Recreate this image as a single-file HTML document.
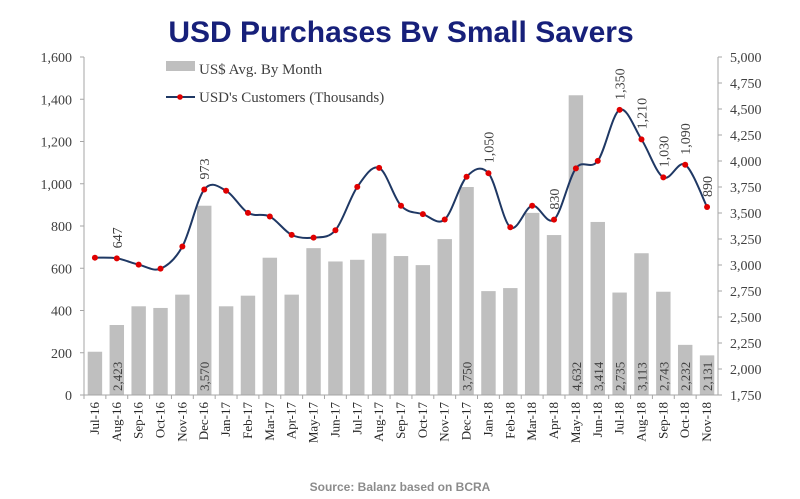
<!DOCTYPE html>
<html><head><meta charset="utf-8"><style>
body{margin:0;background:#fff;}
svg{display:block;font-family:"Liberation Serif",serif;}
</style></head><body>
<svg id="chart" width="800" height="499">
<text x="401" y="42" text-anchor="middle" font-family="Liberation Sans, sans-serif" font-weight="bold" font-size="30" fill="#17207a">USD Purchases Bv Small Savers</text>
<g>
<rect x="166" y="61" width="29" height="10" fill="#bfbfbf"/>
<text x="199" y="74" font-size="15" fill="#404040">US$ Avg. By Month</text>
<line x1="166" y1="97" x2="195" y2="97" stroke="#1f3864" stroke-width="2"/>
<circle cx="180" cy="97" r="2.8" fill="#e00000"/>
<text x="199" y="102" font-size="15" fill="#404040">USD's Customers (Thousands)</text>
</g>
<g id="plot"></g>
<text x="400" y="491" text-anchor="middle" font-family="Liberation Sans, sans-serif" font-weight="bold" font-size="12" fill="#8c8c8c">Source: Balanz based on BCRA</text>
</svg>
<script>
const categories=["Jul-16","Aug-16","Sep-16","Oct-16","Nov-16","Dec-16","Jan-17","Feb-17","Mar-17","Apr-17","May-17","Jun-17","Jul-17","Aug-17","Sep-17","Oct-17","Nov-17","Dec-17","Jan-18","Feb-18","Mar-18","Apr-18","May-18","Jun-18","Jul-18","Aug-18","Sep-18","Oct-18","Nov-18"];
const barValues=[2166,2423,2603,2587,2715,3570,2603,2705,3070,2715,3162,3034,3050,3304,3086,2999,3249,3750,2749,2778,3501,3288,4632,3414,2735,3113,2743,2232,2131];
const barLabels=["","2,423","","","","3,570","","","","","","","","","","","","3,750","","","","","4,632","3,414","2,735","3,113","2,743","2,232","2,131"];
const lineValues=[650,647,617,598,703,973,967,862,845,758,745,780,985,1075,896,856,831,1033,1050,794,896,830,1073,1108,1350,1210,1030,1090,890];
const lineLabels=["","647","","","","973","","","","","","","","","","","","","1,050","","","830","","","1,350","1,210","1,030","1,090","890"];
const leftTicks=[0,200,400,600,800,1000,1200,1400,1600];
const leftTickLabels=["0","200","400","600","800","1,000","1,200","1,400","1,600"];
const rightTicks=[1750,2000,2250,2500,2750,3000,3250,3500,3750,4000,4250,4500,4750,5000];
const rightTickLabels=["1,750","2,000","2,250","2,500","2,750","3,000","3,250","3,500","3,750","4,000","4,250","4,500","4,750","5,000"];

const X0=84,X1=718,Y0=395,Y1=57;
const NS="http://www.w3.org/2000/svg";
const g=document.getElementById('plot');
const step=(X1-X0)/categories.length;
function xc(i){return X0+step*(i+0.5);}
function yL(v){return Y0-(v-0)/(1600-0)*(Y0-Y1);}
function yR(v){return Y0-(v-1750)/(5000-1750)*(Y0-Y1);}
function mk(tag,attrs){const e=document.createElementNS(NS,tag);for(const k in attrs)e.setAttribute(k,attrs[k]);g.appendChild(e);return e;}

barValues.forEach((v,i)=>{
  const w=step*0.66;const y=yR(v);
  const r=mk('rect',{x:xc(i)-w/2,y:y,width:w,height:Y0-y,fill:'#bfbfbf'});
  
  
  if(barLabels[i]){
    const t=mk('text',{transform:`translate(${xc(i)+5},${Y0-4}) rotate(-90)`,'font-size':13,fill:'#404040'});
    t.textContent=barLabels[i];
    
    
  }
});
let a=mk('line',{x1:X0,y1:Y1,x2:X0,y2:Y0,stroke:'#a6a6a6'});


a=mk('line',{x1:X1,y1:Y1,x2:X1,y2:Y0,stroke:'#a6a6a6'});


a=mk('line',{x1:X0,y1:Y0,x2:X1,y2:Y0,stroke:'#a6a6a6'});


leftTicks.forEach((v,i)=>{
  mk('line',{x1:X0-4,y1:yL(v),x2:X0,y2:yL(v),stroke:'#a6a6a6'});
  const t=mk('text',{x:X0-12,y:yL(v)+5,'text-anchor':'end','font-size':14,fill:'#404040'});
  t.textContent=leftTickLabels[i];
  
  
});
rightTicks.forEach((v,i)=>{
  mk('line',{x1:X1,y1:yR(v),x2:X1+4,y2:yR(v),stroke:'#a6a6a6'});
  const t=mk('text',{x:X1+12,y:yR(v)+5,'font-size':14,fill:'#404040'});
  t.textContent=rightTickLabels[i];
  
  
});
categories.forEach((c,i)=>{
  mk('line',{x1:X0+step*i,y1:Y0,x2:X0+step*i,y2:Y0+4,stroke:'#a6a6a6'});
  const t=mk('text',{transform:`translate(${xc(i)+4},${Y0+7}) rotate(-90)`,'text-anchor':'end','font-size':13,fill:'#262626'});
  t.textContent=c;
  
  
});
const pts=lineValues.map((v,i)=>[xc(i),yL(v)]);
let d=`M${pts[0][0]},${pts[0][1]}`;
for(let i=0;i<pts.length-1;i++){
  const p0=pts[Math.max(0,i-1)],p1=pts[i],p2=pts[i+1],p3=pts[Math.min(pts.length-1,i+2)];
  const c1=[p1[0]+(p2[0]-p0[0])/6,p1[1]+(p2[1]-p0[1])/6];
  const c2=[p2[0]-(p3[0]-p1[0])/6,p2[1]-(p3[1]-p1[1])/6];
  d+=` C${c1[0]},${c1[1]} ${c2[0]},${c2[1]} ${p2[0]},${p2[1]}`;
}
const path=mk('path',{d:d,fill:'none',stroke:'#1f3864','stroke-width':2});


pts.forEach((p,i)=>{
  const c=mk('circle',{cx:p[0],cy:p[1],r:3,fill:'#e00000'});
  
  
  if(lineLabels[i]){
    const t=mk('text',{transform:`translate(${p[0]+5},${p[1]-10}) rotate(-90)`,'font-size':14,fill:'#404040'});
    t.textContent=lineLabels[i];
    
    
  }
});
</script>
</body></html>
